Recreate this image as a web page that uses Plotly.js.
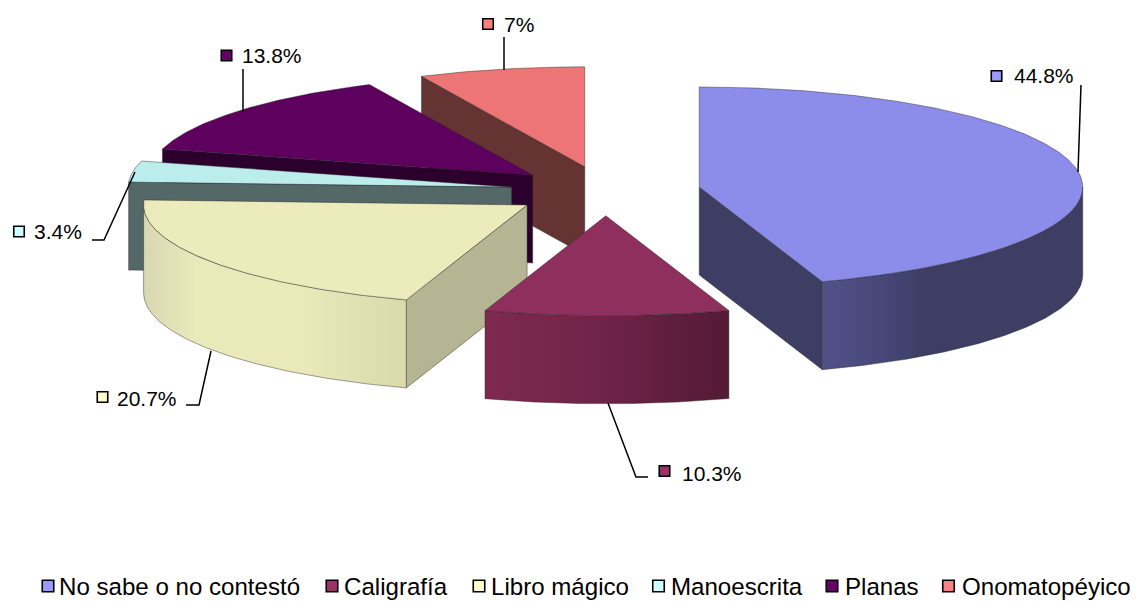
<!DOCTYPE html>
<html>
<head>
<meta charset="utf-8">
<script src="https://cdn.plot.ly/plotly-3.0.1.min.js"></script>
<style>html,body{margin:0;padding:0;background:#fff}#chart{width:1138px;height:602px}</style>
</head>
<body>
<div id="chart"></div>
<script>
// ---- data ----
const categories = ["No sabe o no contestó", "Caligrafía", "Libro mágico", "Manoescrita", "Planas", "Onomatopéyico"];
const percents = [44.8, 10.3, 20.7, 3.4, 13.8, 7];
const valueLabels = ["44.8%", "10.3%", "20.7%", "3.4%", "13.8%", "7%"];

// ---- styles ----
const keyColors = ["#9999FF", "#993366", "#FFFFCC", "#CCFFFF", "#660066", "#FF8080"];
const topColors = ["#8C8CEA", "#8E2F5E", "#ECEBBB", "#BBEDEC", "#5E005E", "#EE7575"];
const sideColors = ["#3E3D63", "#5A1C3C", "#B5B594", "#556868", "#2C002C", "#663333"];
const wallRamps = [
  [[0, "#52528A"], [0.3, "#434372"], [0.4, "#3E3D63"], [1, "#3E3D63"]],
  [[0, "#80294F"], [0.5, "#6E2348"], [1, "#541A36"]],
  [[0, "#D8D7B2"], [0.2, "#EAE9BA"], [0.6, "#EAE9BA"], [1, "#DAD9AC"]],
  [[0, "#556868"], [1, "#556868"]],
  [[0, "#2C002C"], [1, "#2C002C"]],
  [[0, "#663333"], [1, "#663333"]]
];

// ---- pie geometry (page pixels) ----
const center = {x: 605.5, y: 191};
const rx = 383.5, ry = 100, depth = 88, explode = 95;
const squash = ry / rx;
const deg = Math.PI / 180;

// ---- label layout (page pixels) ----
const labelPos = [[1013, 75], [681, 473], [116, 398], [33, 231], [241, 55], [503, 24]];
const keyPos = [[996.5, 76], [664.5, 471], [102.5, 397], [19, 231.5], [226.5, 55.5], [488, 24]];
const leaders = [
  [[1078, 172], [1081, 85]],
  [[608, 403], [636, 477], [648, 477]],
  [[211, 351], [199, 405], [186, 405]],
  [[135, 172], [104, 240], [92, 240]],
  [[243, 112], [243, 69]],
  [[504, 70], [504, 37]]
];
const legendKeyX = [48, 332, 479, 658.5, 832, 948.5];
const legendTextX = [58, 343, 490, 670, 844, 961];
const legendY = 586;

// ---- build ----
const total = percents.reduce((a, b) => a + b, 0);
let acc = 0;
const slices = percents.map((p, i) => {
  const a0 = acc / total * 360;
  acc += p;
  const a1 = acc / total * 360;
  const m = (a0 + a1) / 2 * deg;
  return {
    i, a0, a1,
    cx: center.x + explode * Math.sin(m),
    cy: center.y - explode * squash * Math.cos(m)
  };
});
const pt = (s, a) => [s.cx + rx * Math.sin(a * deg), s.cy - ry * Math.cos(a * deg)];
const arc = (s, a0, a1) => {
  const n = Math.max(2, Math.ceil(Math.abs(a1 - a0) * 2));
  const out = [];
  for (let k = 0; k <= n; k++) out.push(pt(s, a0 + (a1 - a0) * k / n));
  return out;
};
const edge = "rgba(40,40,40,0.55)";
const poly = (pts, fill, name, extra) => Object.assign({
  type: "scatter", mode: "lines", name,
  x: pts.map(p => p[0]).concat(pts[0][0]),
  y: pts.map(p => p[1]).concat(pts[0][1]),
  fill: "toself", fillcolor: fill,
  line: {color: edge, width: 0.8},
  hoverinfo: "skip", showlegend: false
}, extra || {});

const traces = [];
[5, 4, 3, 2, 1, 0].forEach(idx => {
  const s = slices[idx], name = categories[idx];
  // only the radial walls that face the viewer
  const visible = [];
  if (Math.sin(s.a0 * deg) < -1e-6) visible.push(s.a0);
  if (Math.sin(s.a1 * deg) > 1e-6) visible.push(s.a1);
  visible.forEach(a => {
    const e = pt(s, a);
    traces.push(poly([[s.cx, s.cy], e, [e[0], e[1] + depth], [s.cx, s.cy + depth]], sideColors[idx], name + " lado"));
  });
  const f0 = Math.max(s.a0, 90), f1 = Math.min(s.a1, 270);
  if (f1 > f0) {
    const upper = arc(s, f0, f1);
    const lower = upper.slice().reverse().map(p => [p[0], p[1] + depth]);
    const xs = upper.map(p => p[0]);
    traces.push(poly(upper.concat(lower), wallRamps[idx][0][1], name + " pared", {
      fillgradient: {
        type: "horizontal",
        colorscale: wallRamps[idx],
        start: Math.min(...xs),
        stop: Math.max(...xs)
      }
    }));
  }
  traces.push(poly([[s.cx, s.cy]].concat(arc(s, s.a0, s.a1)), topColors[idx], name));
});

leaders.forEach((l, i) => traces.push({
  type: "scatter", mode: "lines", name: "guía " + valueLabels[i],
  x: l.map(p => p[0]), y: l.map(p => p[1]),
  line: {color: "#000", width: 1.5}, hoverinfo: "skip", showlegend: false
}));

traces.push({
  type: "scatter", mode: "markers", name: "claves etiquetas",
  x: keyPos.map(p => p[0]), y: keyPos.map(p => p[1]),
  marker: {symbol: "square", size: 10.5, color: keyColors, line: {color: "#000", width: 1.6}},
  hoverinfo: "skip", showlegend: false
});
traces.push({
  type: "scatter", mode: "markers", name: "claves leyenda",
  x: legendKeyX, y: legendKeyX.map(() => legendY),
  marker: {symbol: "square", size: 11.5, color: keyColors, line: {color: "#000", width: 1.6}},
  hoverinfo: "skip", showlegend: false
});

const font = "Liberation Sans, Arial, sans-serif";
const ann = (x, y, text, size) => ({
  xref: "x", yref: "y", x, y, text, showarrow: false,
  xanchor: "left", yanchor: "middle", borderpad: 0, align: "left",
  font: {family: font, size, color: "#000"}
});
const annotations = valueLabels.map((t, i) => ann(labelPos[i][0], labelPos[i][1], t, 21))
  .concat(categories.map((c, i) => ann(legendTextX[i], legendY, c, 24.1)));

const hidden = r => ({range: r, visible: false, fixedrange: true, showgrid: false, zeroline: false});
Plotly.newPlot("chart", traces, {
  width: 1138, height: 602,
  margin: {l: 0, r: 0, t: 0, b: 0, pad: 0},
  paper_bgcolor: "#fff", plot_bgcolor: "#fff",
  xaxis: hidden([0, 1138]), yaxis: hidden([602, 0]),
  showlegend: false, annotations
}, {displayModeBar: false, staticPlot: true});
</script>
</body>
</html>
